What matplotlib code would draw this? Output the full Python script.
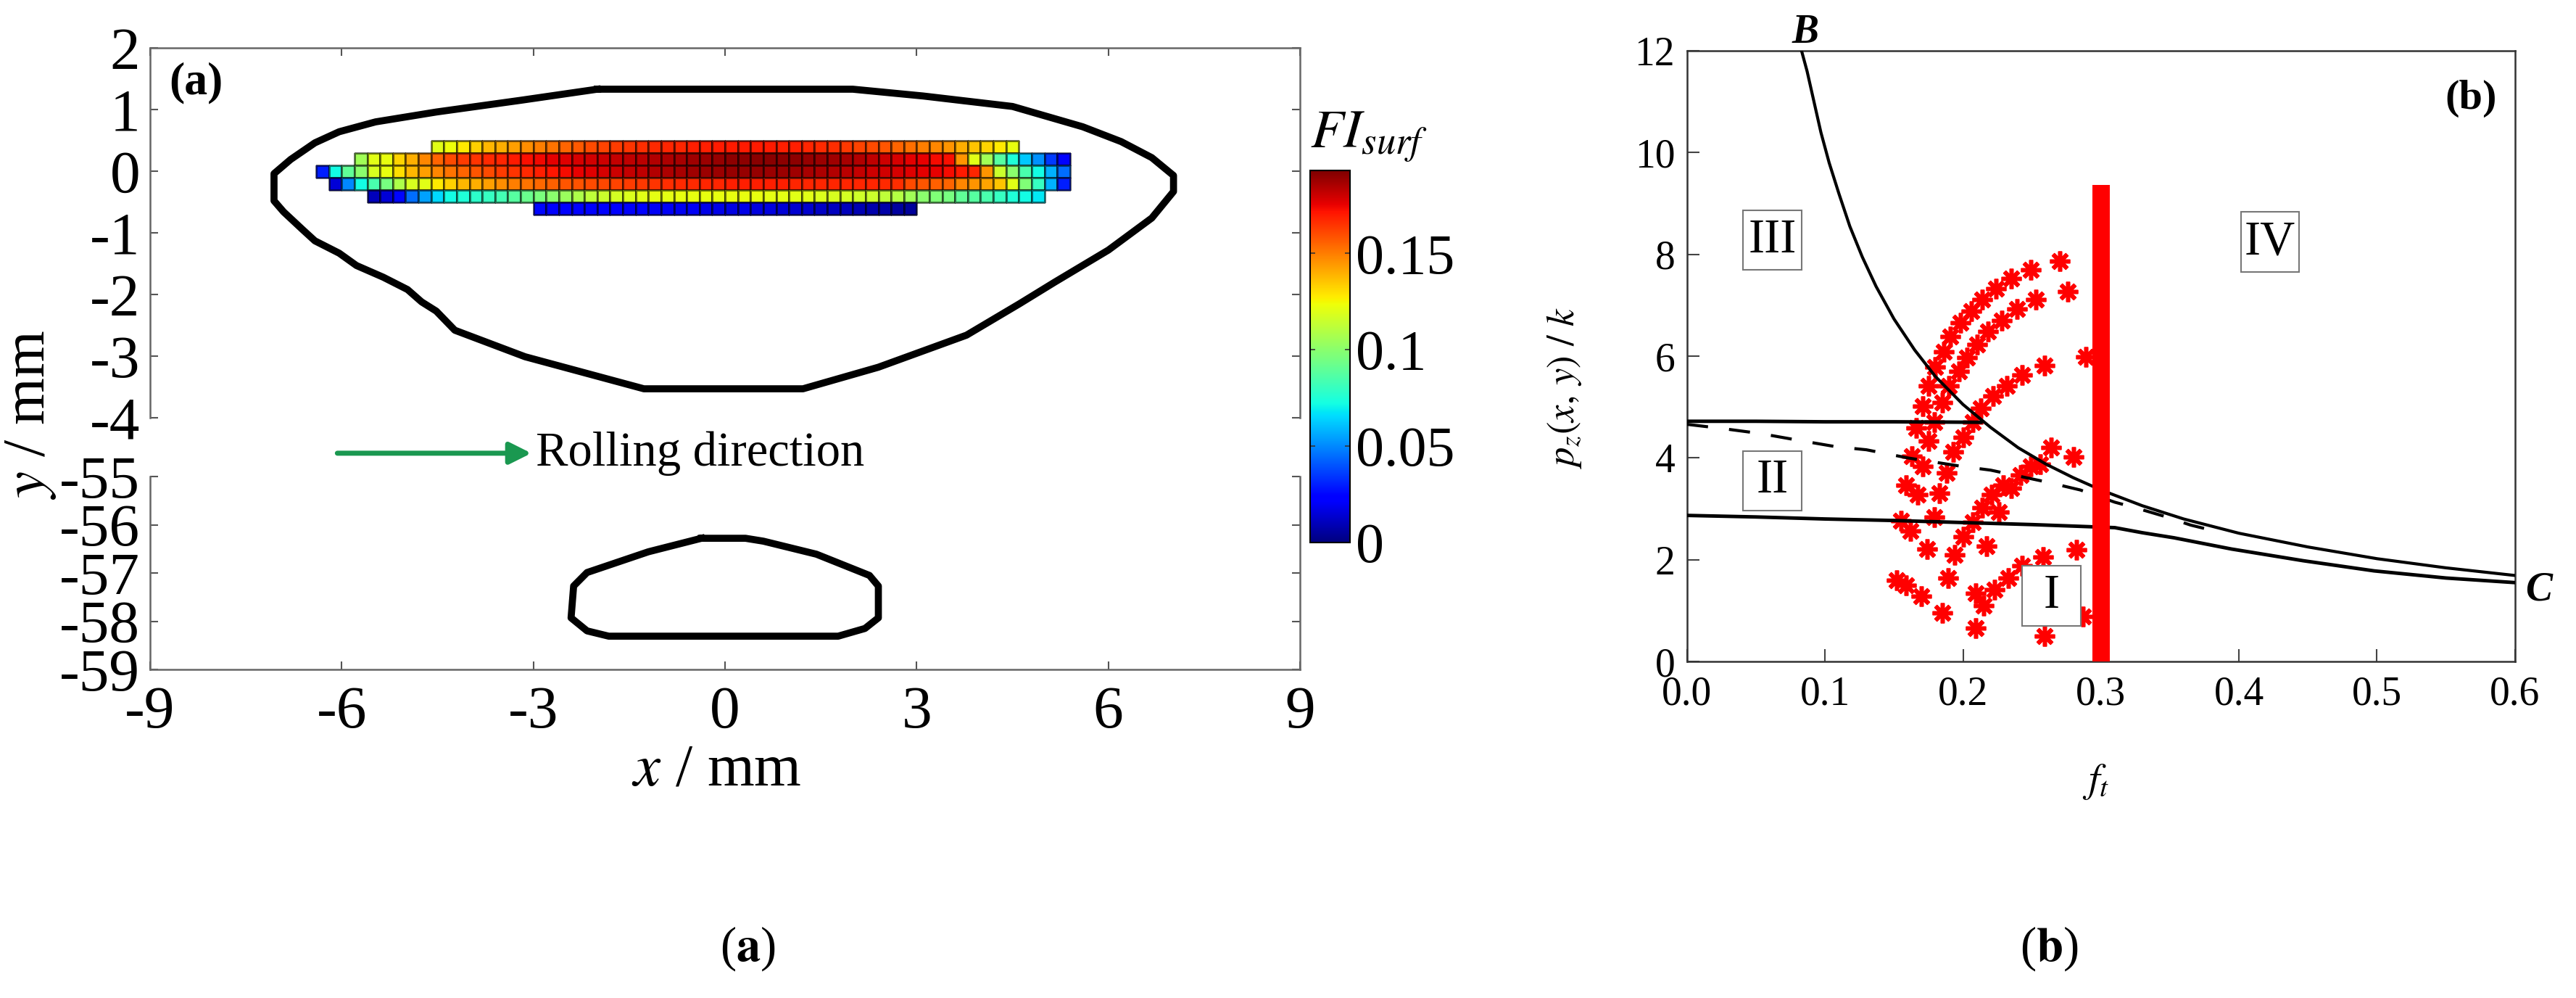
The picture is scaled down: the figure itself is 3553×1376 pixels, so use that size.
import numpy as np
import matplotlib.pyplot as plt
from matplotlib.colors import Normalize
from matplotlib.cm import ScalarMappable
from matplotlib.patches import Rectangle
from matplotlib.ticker import FormatStrFormatter

plt.rcParams['font.family'] = ['Liberation Serif', 'DejaVu Serif']
plt.rcParams['mathtext.fontset'] = 'stix'
plt.rcParams['axes.unicode_minus'] = False

# ---------------- panel (a) data ----------------
cell_w = 0.2
fi_max = 0.193
row_y = [0.4, 0.2, 0.0, -0.2, -0.4, -0.6]
row_x0 = [-4.6, -5.8, -6.4, -6.2, -5.6, -3.0]

fi_row_1 = [0.120, 0.123, 0.128, 0.133, 0.138, 0.140, 0.143, 0.147, 0.150, 0.152,
            0.155, 0.157, 0.160, 0.162, 0.163, 0.165, 0.166, 0.167, 0.168, 0.168,
            0.169, 0.169, 0.170, 0.170, 0.170, 0.170, 0.170, 0.169, 0.169, 0.168,
            0.167, 0.166, 0.164, 0.162, 0.160, 0.158, 0.155, 0.153, 0.150, 0.148,
            0.145, 0.140, 0.135, 0.132, 0.128, 0.122]
fi_row_2 = [0.105, 0.120, 0.122, 0.132, 0.140, 0.148, 0.155, 0.160, 0.163, 0.165,
            0.167, 0.168, 0.170, 0.172, 0.174, 0.176, 0.177, 0.178, 0.179, 0.180,
            0.181, 0.182, 0.183, 0.184, 0.185, 0.186, 0.187, 0.188, 0.189, 0.190,
            0.190, 0.191, 0.191, 0.190, 0.190, 0.189, 0.188, 0.187, 0.186, 0.184,
            0.182, 0.180, 0.178, 0.176, 0.175, 0.173, 0.172, 0.145, 0.120, 0.105,
            0.088, 0.075, 0.062, 0.052, 0.035, 0.022]
fi_row_3 = [0.030, 0.072, 0.090, 0.100, 0.118, 0.122, 0.130, 0.138, 0.143, 0.148,
            0.152, 0.155, 0.158, 0.160, 0.163, 0.165, 0.167, 0.169, 0.171, 0.173,
            0.175, 0.177, 0.178, 0.180, 0.181, 0.182, 0.184, 0.185, 0.186, 0.187,
            0.188, 0.188, 0.189, 0.189, 0.189, 0.188, 0.188, 0.187, 0.186, 0.185,
            0.184, 0.183, 0.181, 0.180, 0.179, 0.178, 0.177, 0.176, 0.175, 0.173,
            0.170, 0.168, 0.145, 0.115, 0.100, 0.085, 0.072, 0.058, 0.045]
fi_row_4 = [0.015, 0.050, 0.072, 0.085, 0.095, 0.108, 0.118, 0.120, 0.128, 0.133,
            0.138, 0.140, 0.143, 0.147, 0.150, 0.152, 0.154, 0.156, 0.158, 0.159,
            0.160, 0.161, 0.162, 0.163, 0.164, 0.165, 0.166, 0.167, 0.167, 0.168,
            0.168, 0.169, 0.169, 0.169, 0.169, 0.169, 0.168, 0.168, 0.168, 0.168,
            0.168, 0.168, 0.168, 0.167, 0.166, 0.160, 0.158, 0.156, 0.155, 0.148,
            0.145, 0.142, 0.135, 0.120, 0.098, 0.080, 0.058, 0.030]
fi_row_5 = [0.010, 0.015, 0.025, 0.045, 0.055, 0.065, 0.072, 0.075, 0.078, 0.080,
            0.083, 0.088, 0.092, 0.096, 0.100, 0.104, 0.108, 0.112, 0.115, 0.117,
            0.119, 0.120, 0.121, 0.121, 0.122, 0.122, 0.122, 0.122, 0.122, 0.122,
            0.122, 0.121, 0.121, 0.120, 0.120, 0.119, 0.118, 0.117, 0.116, 0.115,
            0.112, 0.110, 0.105, 0.100, 0.098, 0.095, 0.090, 0.088, 0.085, 0.080,
            0.075, 0.072, 0.068]
fi_row_6 = [0.025, 0.024, 0.024, 0.023, 0.024, 0.022, 0.022, 0.021, 0.022, 0.020,
            0.020, 0.019, 0.020, 0.018, 0.018, 0.017, 0.018, 0.016, 0.016, 0.015,
            0.014, 0.013, 0.012, 0.011, 0.010, 0.009, 0.008, 0.007, 0.006, 0.005]
fi_rows = [fi_row_1, fi_row_2, fi_row_3, fi_row_4, fi_row_5, fi_row_6]

# contour of the upper roll section (mm)
upper_x = [-2.0, 2.0, 3.1, 4.5, 5.6, 6.2, 6.68, 7.02, 7.02, 6.68, 6.0, 5.16, 4.61,
           3.78, 2.4, 1.22, -1.27, -3.13, -4.23, -4.52, -4.75, -4.97, -5.35, -5.77,
           -6.04, -6.42, -6.61, -6.91, -7.06, -7.06, -6.8, -6.42, -6.04, -5.47, -4.52,
           -3.2, -2.0]
upper_y = [1.33, 1.33, 1.22, 1.05, 0.72, 0.48, 0.22, -0.07, -0.33, -0.76, -1.28, -1.8,
           -2.15, -2.66, -3.18, -3.53, -3.53, -3.01, -2.58, -2.27, -2.12, -1.92, -1.72,
           -1.53, -1.33, -1.13, -0.95, -0.66, -0.48, -0.04, 0.19, 0.46, 0.64, 0.8, 0.96,
           1.15, 1.33]
# contour of the lower roll section (mm)
lower_x = [-0.37, 0.32, 0.6, 1.43, 2.26, 2.40, 2.40, 2.19, 1.77, -1.82, -2.16, -2.41,
           -2.37, -2.16, -1.2, -0.37]
lower_y = [-56.28, -56.28, -56.34, -56.61, -57.05, -57.27, -57.93, -58.15, -58.31,
           -58.31, -58.2, -57.93, -57.27, -56.99, -56.56, -56.28]

# ---------------- panel (b) data ----------------
curve_bc_f = [0.083, 0.087, 0.092, 0.097, 0.103, 0.11, 0.118, 0.127, 0.137, 0.15,
              0.165, 0.18, 0.20, 0.22, 0.24, 0.26, 0.28, 0.30, 0.33, 0.36, 0.40,
              0.45, 0.50, 0.55, 0.60]
curve_bc_p = [12.0, 11.6, 11.0, 10.4, 9.8, 9.2, 8.55, 7.95, 7.37, 6.73, 6.12, 5.6,
              5.05, 4.6, 4.2, 3.88, 3.61, 3.37, 3.06, 2.8, 2.52, 2.25, 2.02, 1.84, 1.69]
top_line_f = [0.0, 0.05, 0.10, 0.15, 0.213]
top_line_p = [4.72, 4.72, 4.71, 4.71, 4.70]
dash_f = [0.0, 0.025, 0.053, 0.08, 0.108, 0.13, 0.16, 0.20, 0.22, 0.26, 0.285, 0.31,
          0.325, 0.345, 0.365, 0.38]
dash_p = [4.66, 4.58, 4.48, 4.35, 4.22, 4.16, 4.0, 3.83, 3.76, 3.53, 3.37, 3.13,
          3.02, 2.86, 2.68, 2.58]
low_line_f = [0.0, 0.05, 0.10, 0.15, 0.20, 0.25, 0.29, 0.31, 0.33, 0.353, 0.3945,
              0.4465, 0.498, 0.55, 0.60]
low_line_p = [2.87, 2.84, 2.80, 2.77, 2.73, 2.69, 2.65, 2.63, 2.53, 2.43, 2.21,
              1.98, 1.78, 1.64, 1.55]

star_f = [0.270, 0.249, 0.235, 0.224, 0.214, 0.206, 0.198, 0.191, 0.186, 0.180, 0.175,
          0.171, 0.166,
          0.276, 0.253, 0.239, 0.228, 0.218, 0.210, 0.203, 0.197, 0.190, 0.185, 0.179,
          0.175,
          0.289, 0.259, 0.243, 0.232, 0.222, 0.213, 0.207, 0.200, 0.193,
          0.264, 0.280, 0.163, 0.171, 0.188, 0.159, 0.167, 0.183, 0.155, 0.162, 0.179,
          0.174, 0.194, 0.217, 0.200, 0.207, 0.214, 0.226, 0.221, 0.229, 0.235, 0.242,
          0.249, 0.256, 0.282, 0.258, 0.243, 0.233, 0.223, 0.215, 0.209, 0.189, 0.152,
          0.159, 0.170, 0.185, 0.209, 0.259, 0.287]
star_p = [7.87, 7.70, 7.53, 7.32, 7.11, 6.89, 6.66, 6.39, 6.09, 5.78, 5.42, 5.02, 4.59,
          7.27, 7.11, 6.92, 6.70, 6.49, 6.23, 5.97, 5.70, 5.42, 5.09, 4.71, 4.33,
          5.99, 5.82, 5.63, 5.42, 5.21, 4.97, 4.71, 4.40, 4.12,
          4.21, 4.02, 4.04, 3.83, 3.71, 3.47, 3.28, 3.31, 2.76, 2.57, 2.83,
          2.21, 2.09, 2.26, 2.45, 2.74, 3.02, 2.93, 3.28, 3.47, 3.40, 3.66,
          3.83, 3.88, 2.19, 2.05, 1.88, 1.64, 1.41, 1.10, 1.34, 1.64, 1.60,
          1.50, 1.29, 0.95, 0.65, 0.50, 0.88]

limit_f = 0.3
limit_top = 9.36

region_names = ['III', 'IV', 'II', 'I']
region_f = [0.062, 0.4225, 0.062, 0.264]
region_p = [8.28, 8.24, 3.55, 1.29]

# ---------------- figure ----------------
fig = plt.figure(figsize=(35.53, 13.76), dpi=100)
ax_top = fig.add_axes([0.05826, 0.5814, 0.4464, 0.3706])
ax_bot = fig.add_axes([0.05826, 0.3292, 0.4464, 0.1933])
cax = fig.add_axes([0.5086, 0.4564, 0.01548, 0.3728])
ax_b = fig.add_axes([0.6549, 0.3372, 0.3214, 0.6119])

norm = Normalize(0, fi_max)
for y, x0, vals in zip(row_y, row_x0, fi_rows):
    xs = x0 + cell_w * np.arange(len(vals) + 1)
    ys = [y - cell_w / 2, y + cell_w / 2]
    ax_top.pcolormesh(xs, ys, np.array([vals]), cmap='jet', norm=norm,
                      edgecolors=(0, 0, 0, 0.55), linewidth=0.8)

ax_top.plot(upper_x, upper_y, color='k', lw=7, solid_joinstyle='round')
ax_bot.plot(lower_x, lower_y, color='k', lw=7, solid_joinstyle='round')

ax_top.set_xlim(-9, 9)
ax_top.set_ylim(-4, 2)
ax_bot.set_xlim(-9, 9)
ax_bot.set_ylim(-59, -55)
ax_top.set_xticks(range(-9, 10, 3))
ax_bot.set_xticks(range(-9, 10, 3))
ax_top.set_yticks(range(-4, 3))
ax_bot.set_yticks(range(-59, -54))

for ax in (ax_top, ax_bot):
    ax.tick_params(direction='in', length=8, width=1.5, color='#555', labelsize=60,
                   pad=10, left=True, right=True)
    for s in ax.spines.values():
        s.set_linewidth(1.8)
        s.set_color('#666')
ax_top.tick_params(axis='x', top=True, bottom=False, labelbottom=False)
ax_bot.tick_params(axis='x', top=False, bottom=True, pad=16)
ax_top.spines['bottom'].set_visible(False)
ax_bot.spines['top'].set_visible(False)

ax_bot.set_xlabel(r'$x$ / mm', fontsize=60)
ax_bot.xaxis.label.set_va('center')
ax_bot.xaxis.set_label_coords(0.4924, -0.526)
fig.text(0.012, 0.5843, r'$y$ / mm', rotation=90, ha='center', va='center', fontsize=60)

ax_top.text(-8.7, 1.43, '(a)', fontweight='bold', fontsize=46, ha='left', va='center')

# rolling direction arrow sits in the gap between the two axes
ax_top.annotate('', xy=(-3.0, -4.575), xytext=(-6.1, -4.575),
                arrowprops=dict(arrowstyle='-|>', color='#1a9850', lw=5, mutation_scale=45),
                annotation_clip=False)
ax_top.text(-2.96, -4.575, 'Rolling direction', fontsize=48, ha='left', va='center',
            clip_on=False)

sm = ScalarMappable(norm=norm, cmap='jet')
cb = fig.colorbar(sm, cax=cax, ticks=[0, 0.05, 0.1, 0.15])
cb.ax.set_yticklabels(['0', '0.05', '0.1', '0.15'])
cb.ax.tick_params(direction='in', length=5, width=1.2, color='#333', labelsize=56,
                  pad=6, left=True, right=True)
cb.outline.set_linewidth(1.5)
fig.text(0.5086, 0.8517, r'$FI_{surf}$', fontsize=54, ha='left', va='baseline')

# ---------------- panel (b) ----------------
ax_b.plot(star_f, star_p, ls='none', marker=(8, 2, 0), ms=20, mew=4, color='red',
          zorder=2)
ax_b.plot(curve_bc_f, curve_bc_p, color='k', lw=3, zorder=3)
ax_b.plot(top_line_f, top_line_p, color='k', lw=3.5, zorder=3)
ax_b.plot(low_line_f, low_line_p, color='k', lw=3.5, zorder=3)
ax_b.plot(dash_f, dash_p, color='k', lw=3, dashes=(7, 7), zorder=3)
ax_b.bar(limit_f, limit_top, width=0.0126, bottom=0, color='red', zorder=4)

for name, f, p in zip(region_names, region_f, region_p):
    ax_b.add_patch(Rectangle((f - 0.02125, p - 0.59), 0.0425, 1.18, fc='white',
                             ec='#777', lw=1.5, zorder=5))
    ax_b.text(f, p, name, fontsize=48, ha='center', va='center', zorder=6)

ax_b.set_xlim(0, 0.6)
ax_b.set_ylim(0, 12)
ax_b.set_xticks(np.arange(0, 0.61, 0.1))
ax_b.set_yticks(range(0, 13, 2))
ax_b.xaxis.set_major_formatter(FormatStrFormatter('%.1f'))
ax_b.tick_params(direction='in', length=12, width=1.5, color='#444', labelsize=40)
ax_b.tick_params(axis='x', pad=14)
ax_b.tick_params(axis='y', pad=12)
for s in ax_b.spines.values():
    s.set_linewidth(1.8)
    s.set_color('#333')

ax_b.set_ylabel(r'$p_z(x,\,y)\ /\ k$', fontsize=38)
ax_b.yaxis.label.set_va('center')
ax_b.yaxis.set_label_coords(-0.148, 0.448)
ax_b.set_xlabel(r'$f_t$', fontsize=40)
ax_b.xaxis.label.set_va('center')
ax_b.xaxis.set_label_coords(0.494, -0.197)

ax_b.text(0.0857, 12.35, 'B', fontweight='bold', fontstyle='italic', fontsize=40,
          ha='center', va='center', clip_on=False)
ax_b.text(0.617, 1.40, 'C', fontweight='bold', fontstyle='italic', fontsize=40,
          ha='center', va='center', clip_on=False)
ax_b.text(0.568, 11.06, '(b)', fontweight='bold', fontsize=42, ha='center', va='center')

fig.text(0.2902, 0.0494, r'($\mathbf{a}$)', fontsize=48, ha='center', va='center')
fig.text(0.7954, 0.0494, r'($\mathbf{b}$)', fontsize=48, ha='center', va='center')

fig.savefig('out.png', dpi=100)
